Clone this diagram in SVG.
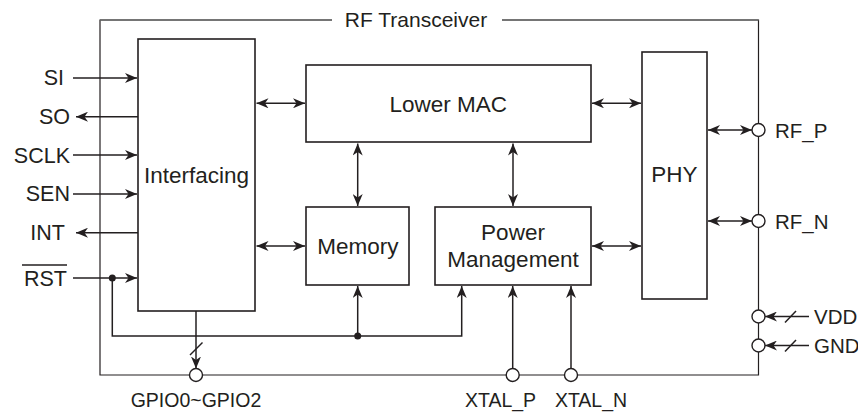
<svg xmlns="http://www.w3.org/2000/svg" width="858" height="412" viewBox="0 0 858 412">
<style>
.box{fill:#fff;stroke:#231f20;stroke-width:1.6}
.ln{fill:none;stroke:#231f20;stroke-width:1.5}
.fr{fill:none;stroke:#231f20;stroke-width:1.2}
.pin{fill:#fff;stroke:#231f20;stroke-width:1.4}
.dot{fill:#231f20}
text{font-family:"Liberation Sans",Arial,sans-serif;fill:#231f20}
.bl{font-size:22.5px;text-anchor:middle}
.lp{font-size:21.5px;text-anchor:end}
.rp{font-size:20.5px}
.bp{font-size:19.5px;text-anchor:middle}
</style>
<defs>
<marker id="arr" viewBox="0 0 12 10" refX="12" refY="5" markerWidth="12" markerHeight="10" markerUnits="userSpaceOnUse" orient="auto-start-reverse">
<path d="M0,0 L12,5 L0,10 L3.5,5 Z" fill="#231f20"/>
</marker>
</defs>
<rect width="858" height="412" fill="#fff"/>

<g id="frame">
<path class="fr" d="M332,20 H100 V375 H758.5 V20 H502"/>
<path d="M332,20 H100" stroke="#6d6d6d" stroke-width="1.4" fill="none"/>
<path d="M502,20 H758.5" stroke="#6d6d6d" stroke-width="1.4" fill="none"/>
<text x="416" y="27" style="font-size:21px;text-anchor:middle">RF Transceiver</text>
</g>

<g id="connectors">
<line class="ln" x1="73" y1="78" x2="137" y2="78" marker-end="url(#arr)"/>
<line class="ln" x1="138" y1="116.7" x2="76" y2="116.7" marker-end="url(#arr)"/>
<line class="ln" x1="73" y1="155" x2="137" y2="155" marker-end="url(#arr)"/>
<line class="ln" x1="73" y1="194" x2="137" y2="194" marker-end="url(#arr)"/>
<line class="ln" x1="138" y1="232.7" x2="76" y2="232.7" marker-end="url(#arr)"/>
<line class="ln" x1="73" y1="278" x2="137" y2="278" marker-end="url(#arr)"/>
<circle class="dot" cx="112.3" cy="278" r="3.5"/>
<path class="ln" d="M112.3,278 V336 H461.7 V286" marker-end="url(#arr)"/>
<circle class="dot" cx="357.7" cy="336" r="3.5"/>
<line class="ln" x1="357.7" y1="336" x2="357.7" y2="286" marker-end="url(#arr)"/>
<line class="ln" x1="196" y1="311" x2="196" y2="368.5" marker-end="url(#arr)"/>
<line class="ln" x1="190" y1="355" x2="202.5" y2="342.5"/>
<line class="ln" x1="512.7" y1="368.5" x2="512.7" y2="286" marker-end="url(#arr)"/>
<line class="ln" x1="571" y1="368.5" x2="571" y2="286" marker-end="url(#arr)"/>
<line class="ln" x1="256.5" y1="103.3" x2="305" y2="103.3" marker-start="url(#arr)" marker-end="url(#arr)"/>
<line class="ln" x1="256.5" y1="246" x2="305" y2="246" marker-start="url(#arr)" marker-end="url(#arr)"/>
<line class="ln" x1="592" y1="103.3" x2="641" y2="103.3" marker-start="url(#arr)" marker-end="url(#arr)"/>
<line class="ln" x1="592" y1="246" x2="641" y2="246" marker-start="url(#arr)" marker-end="url(#arr)"/>
<line class="ln" x1="357.7" y1="143.5" x2="357.7" y2="206" marker-start="url(#arr)" marker-end="url(#arr)"/>
<line class="ln" x1="513" y1="143.5" x2="513" y2="206" marker-start="url(#arr)" marker-end="url(#arr)"/>
<line class="ln" x1="708" y1="130" x2="752" y2="130" marker-start="url(#arr)" marker-end="url(#arr)"/>
<line class="ln" x1="708" y1="221" x2="752" y2="221" marker-start="url(#arr)" marker-end="url(#arr)"/>
<line class="ln" x1="809" y1="316.5" x2="765" y2="316.5" marker-end="url(#arr)"/>
<line class="ln" x1="785" y1="322.5" x2="796" y2="311"/>
<line class="ln" x1="809" y1="345.5" x2="765" y2="345.5" marker-end="url(#arr)"/>
<line class="ln" x1="785" y1="351.5" x2="796" y2="340"/>
</g>

<g id="pins">
<circle class="pin" cx="196" cy="375" r="6.5"/>
<circle class="pin" cx="512.7" cy="375" r="6.5"/>
<circle class="pin" cx="571" cy="375" r="6.5"/>
<circle class="pin" cx="758.5" cy="130" r="6.5"/>
<circle class="pin" cx="758.5" cy="221" r="6.5"/>
<circle class="pin" cx="758.5" cy="316.5" r="6.5"/>
<circle class="pin" cx="758.5" cy="345.5" r="6.5"/>
<text class="lp" x="64" y="85">SI</text>
<text class="lp" x="70" y="124">SO</text>
<text class="lp" x="70" y="162.5">SCLK</text>
<text class="lp" x="70" y="201">SEN</text>
<text class="lp" x="65" y="240">INT</text>
<text class="lp" x="67" y="285.5">RST</text>
<line x1="22" y1="265" x2="67" y2="265" stroke="#231f20" stroke-width="1.5"/>
<text class="rp" x="775" y="137.5">RF_P</text>
<text class="rp" x="775" y="228.5">RF_N</text>
<text class="rp" x="814" y="324">VDD</text>
<text class="rp" x="814" y="353">GND</text>
<text class="bp" x="500.5" y="407">XTAL_P</text>
<text class="bp" x="591" y="407">XTAL_N</text>
<text class="bp" x="196" y="407">GPIO0~GPIO2</text>
</g>

<g id="interfacing">
<rect class="box" x="138" y="39" width="117" height="272"/>
<text class="bl" x="196.5" y="182.5">Interfacing</text>
</g>
<g id="lower-mac">
<rect class="box" x="306" y="65" width="285" height="77"/>
<text class="bl" x="448.3" y="111.5">Lower MAC</text>
</g>
<g id="memory">
<rect class="box" x="306" y="207" width="103" height="78"/>
<text class="bl" x="358" y="253.5">Memory</text>
</g>
<g id="power-management">
<rect class="box" x="435" y="207" width="156" height="78"/>
<text class="bl" x="513" y="239.5">Power</text>
<text class="bl" x="513" y="266.5">Management</text>
</g>
<g id="phy">
<rect class="box" x="642" y="52" width="65" height="247"/>
<text class="bl" x="674.3" y="182">PHY</text>
</g>
</svg>
